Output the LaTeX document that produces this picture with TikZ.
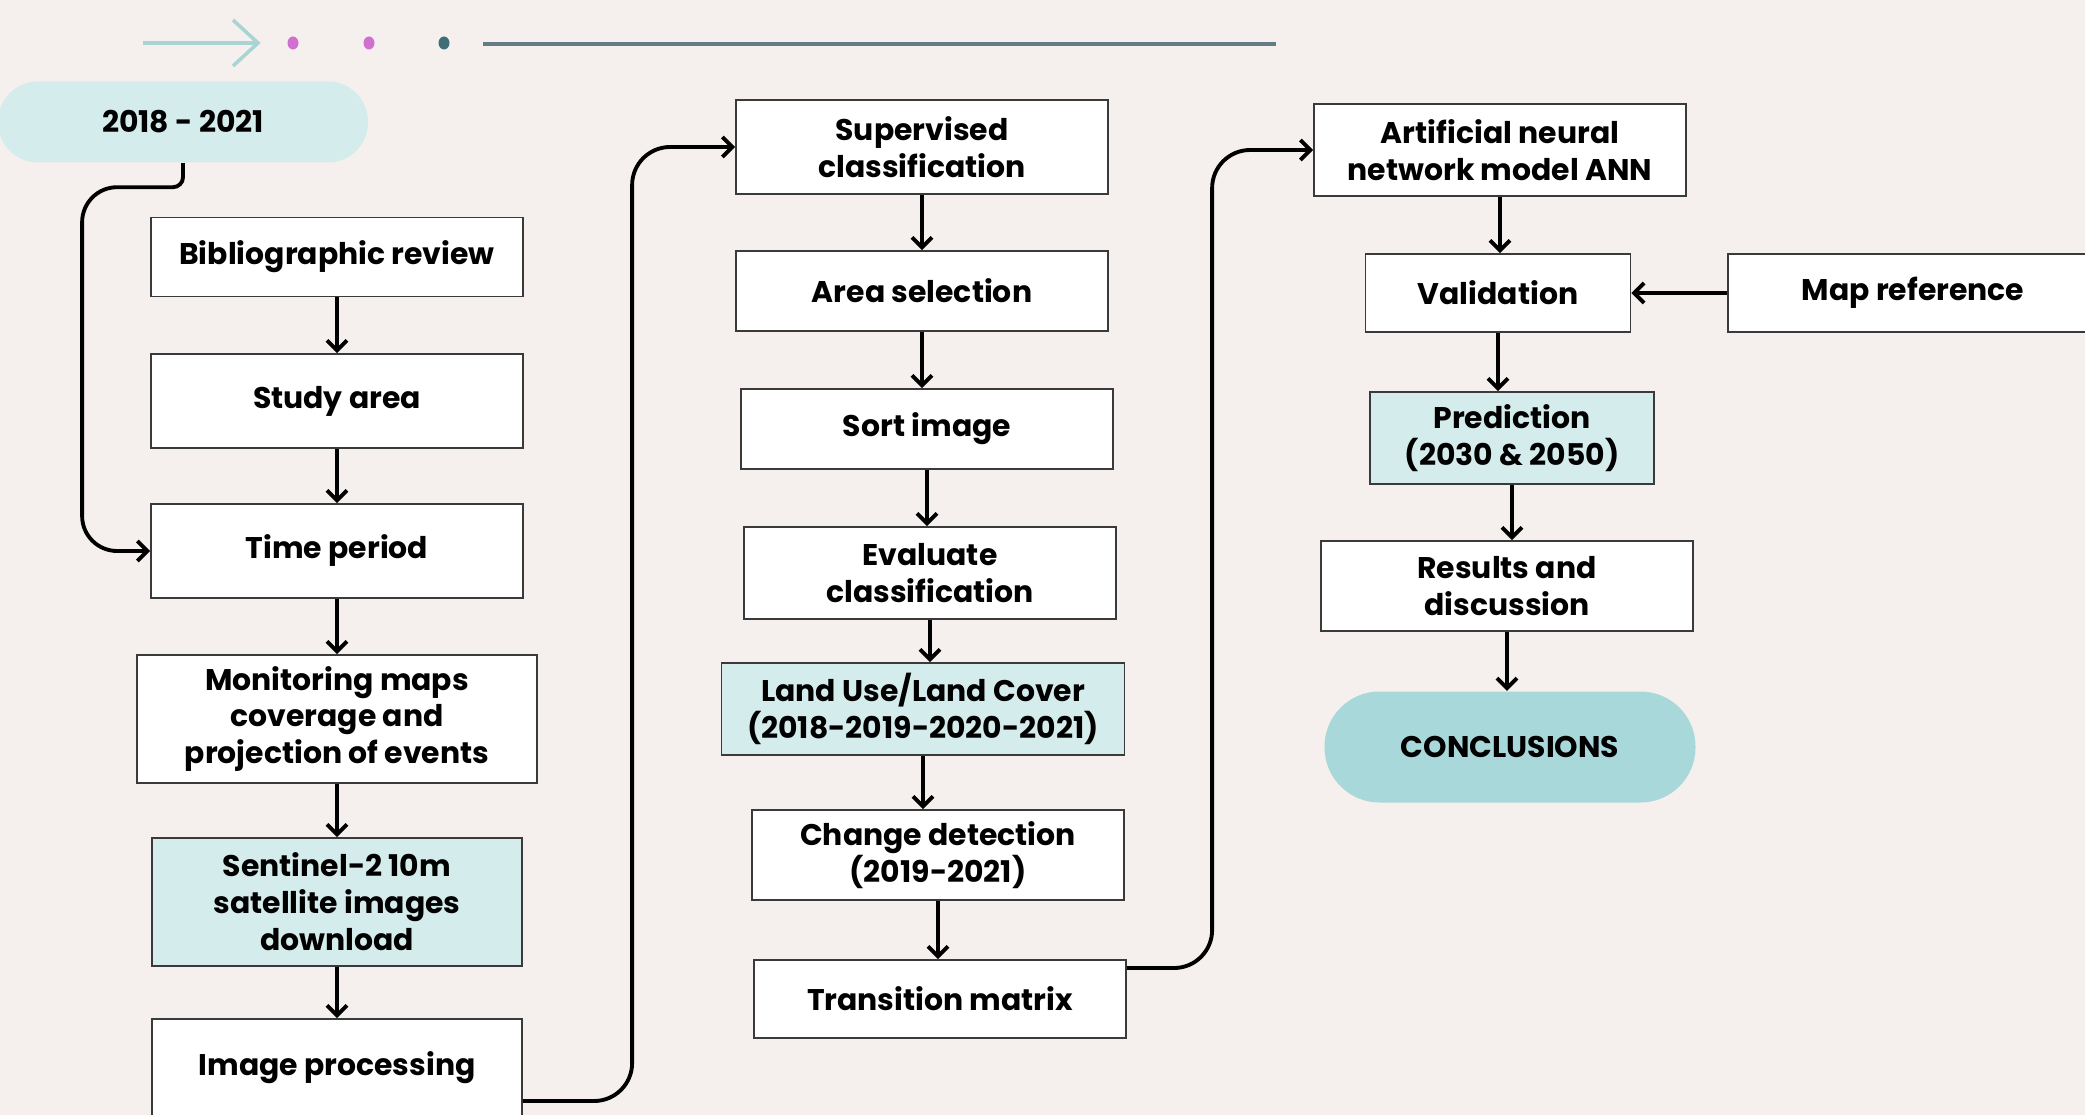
\documentclass[tikz,border=0pt]{standalone}
\usepackage{fontspec}
\setmainfont{Poppins}
\usepackage{tikz}
\usetikzlibrary{arrows.meta,positioning,calc}
\definecolor{paper}{HTML}{F5F0ED}
\definecolor{mint}{HTML}{D5ECEC}
\definecolor{aqua}{HTML}{A8D8DA}
\definecolor{orchid}{HTML}{CF6FCF}
\definecolor{petrol}{HTML}{3E6F77}
\definecolor{slate}{HTML}{627D84}
\definecolor{seafoam}{HTML}{A9D4D4}
\definecolor{edge}{HTML}{3A3A3A}
\tikzset{box/.style={draw=edge,line width=0.5pt,fill=white,align=center,inner sep=2pt,minimum width=3.72cm},flow/.style={-{Straight Barb[length=1mm,width=2mm]},line width=1.1pt,draw=black}}

\begin{document}
\begin{tikzpicture}[font=\fontsize{8.5}{10.5}\selectfont\bfseries,hl/.style={box,fill=mint},pill/.style={fill=mint,minimum width=3.7cm,minimum height=0.81cm,rounded corners=0.4cm}]
\useasboundingbox (0,0) rectangle (20.85,-11.15);
\clip (0,0) rectangle (20.85,-11.15);
\fill[paper] (0,0) rectangle (20.85,-11.15);
% header
\draw[seafoam,line width=1pt] (1.43,-0.43) -- (2.58,-0.43);
\draw[seafoam,line width=1pt] (2.33,-0.2) -- (2.58,-0.43) -- (2.33,-0.66);
\foreach \x/\c in {2.93/orchid,3.69/orchid,4.44/petrol} \fill[\c] (\x,-0.43) ellipse (0.055 and 0.065);
\draw[slate,line width=1.1pt] (4.83,-0.44) -- (12.76,-0.44);
% left column
\node[pill] (yrs) at (1.83,-1.22) {2018 - 2021};
\node[box,minimum height=0.79cm] (biblio) at (3.37,-2.57) {Bibliographic review};
\node[box,minimum height=0.94cm] (study) at (3.37,-4.01) {Study area};
\node[box,minimum height=0.94cm] (time) at (3.37,-5.51) {Time period};
\node[box,minimum width=4cm,minimum height=1.28cm] (monit) at (3.37,-7.19) {Monitoring maps\\coverage and\\projection of events};
\node[hl,minimum width=3.7cm,minimum height=1.28cm] (senti) at (3.37,-9.02) {Sentinel-2 10m\\satellite images\\download};
\node[box,minimum width=3.7cm,minimum height=0.98cm] (improc) at (3.37,-10.68) {Image processing};
% middle column
\node[box,minimum height=0.94cm] (superv) at (9.22,-1.47) {Supervised\\classification};
\node[box,minimum height=0.8cm] (areasel) at (9.22,-2.91) {Area selection};
\node[box,minimum height=0.8cm] (sortimg) at (9.27,-4.29) {Sort image};
\node[box,minimum height=0.92cm] (evalcl) at (9.30,-5.73) {Evaluate\\classification};
\node[hl,minimum width=4.03cm,minimum height=0.92cm] (lulc) at (9.23,-7.09) {Land Use/Land Cover\\(2018-2019-2020-2021)};
\node[box,minimum height=0.9cm] (change) at (9.38,-8.55) {Change detection\\(2019-2021)};
\node[box,minimum height=0.78cm] (transm) at (9.40,-9.99) {Transition matrix};
% right column
\node[box,minimum height=0.92cm] (ann) at (15.00,-1.50) {Artificial neural\\network model ANN};
\node[box,minimum width=2.65cm,minimum height=0.78cm] (valid) at (14.98,-2.93) {Validation};
\node[box,minimum width=3.7cm,minimum height=0.78cm] (mapref) at (19.13,-2.93) {Map reference};
\node[hl,minimum width=2.84cm,minimum height=0.92cm] (predict) at (15.12,-4.38) {Prediction\\(2030 \& 2050)};
\node[box,minimum height=0.9cm] (results) at (15.07,-5.86) {Results and\\discussion};
\node[pill,fill=aqua,minimum width=3.71cm,minimum height=1.11cm,rounded corners=0.55cm] (concl) at (15.10,-7.47) {CONCLUSIONS};
% arrows
\foreach \a/\b in {biblio/study,study/time,time/monit,monit/senti,senti/improc,superv/areasel,areasel/sortimg,sortimg/evalcl,evalcl/lulc,lulc/change,change/transm,ann/valid,valid/predict,predict/results,results/concl}
  \draw[flow] (\a.south) -- (\a.south |- \b.north);
\draw[flow] (yrs.south) [rounded corners=0.1cm] -- ++(0,-0.24) [rounded corners=0.35cm] -| ([xshift=-0.68cm]time.west) -- (time.west);
\draw[flow,rounded corners=0.38cm] ([yshift=-0.33cm]improc.east) -| ([xshift=-1.03cm]superv.west) -- (superv.west);
\draw[flow,rounded corners=0.38cm] ([yshift=0.31cm]transm.east) -| ([xshift=-1.01cm]ann.west) -- (ann.west);
\draw[flow] (mapref.west) -- (valid.east);
\end{tikzpicture}
\end{document}
